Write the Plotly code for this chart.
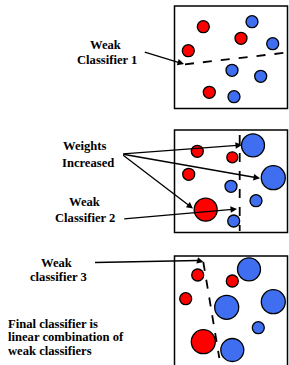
import plotly.graph_objects as go

RED = "#ff0000"
BLUE = "#3f6ff0"

# Panel 1 circles (x, y, diameter, colour)
p1_x = [203.3, 252, 241, 272.7, 188.3, 232, 260.7, 209.3, 234]
p1_y = [26.7, 21.7, 38.3, 43.7, 50.7, 70.3, 76.3, 92.3, 96.7]
p1_d = [12, 12, 12, 12, 12, 12, 12, 12, 12]
p1_c = ["r", "b", "r", "b", "r", "b", "b", "r", "b"]

# Panel 2 circles
p2_x = [197.3, 253, 232.3, 188.7, 273.3, 231, 256, 205.7, 233.7]
p2_y = [151.3, 145.3, 157.3, 174.3, 177.7, 186.3, 200.7, 209.7, 221]
p2_d = [12, 23, 11, 12, 24, 12, 12, 23, 12]
p2_c = ["r", "b", "r", "r", "b", "b", "b", "r", "b"]

# Panel 3 circles
p3_x = [197.7, 249, 232.3, 185.7, 226.7, 273.3, 258.3, 203.3, 232.3]
p3_y = [275, 269.3, 281, 298.7, 307.3, 301.7, 327.7, 341.7, 350]
p3_d = [12, 23, 12, 12, 24, 24, 12, 24, 23]
p3_c = ["r", "b", "r", "r", "b", "b", "b", "r", "b"]

fig = go.Figure()
for xs, ys, ds, cs in [(p1_x, p1_y, p1_d, p1_c), (p2_x, p2_y, p2_d, p2_c), (p3_x, p3_y, p3_d, p3_c)]:
    fig.add_trace(go.Scatter(
        x=xs, y=ys, mode="markers",
        marker=dict(size=ds, color=[RED if c == "r" else BLUE for c in cs],
                    line=dict(color="black", width=1.3), opacity=1),
        hoverinfo="skip", showlegend=False))

shapes = []
# boxes
for (y0, y1) in [(6, 108.5), (130, 232.5), (256, 366)]:
    shapes.append(dict(type="rect", x0=174.5, x1=287.5, y0=y0, y1=y1,
                       line=dict(color="black", width=1.5), layer="below"))
# dashed classifier lines
dash = dict(color="black", width=1.8, dash="dash")
shapes.append(dict(type="line", x0=185, y0=64.3, x1=289, y1=52.3, line=dash))
shapes.append(dict(type="line", x0=239.7, y0=135, x1=239.7, y1=231, line=dash))
shapes.append(dict(type="line", x0=203.3, y0=262, x1=219.3, y1=358, line=dash))
# line from Weak classifier 3
shapes.append(dict(type="line", x0=95, y0=262.5, x1=198, y1=260.5, line=dict(color="black", width=1.3)))

fig.update_layout(shapes=shapes)

font = dict(family="Liberation Serif", size=12.6, color="black")

def arrow(x0, y0, x1, y1):
    fig.add_annotation(x=x1, y=y1, ax=x0, ay=y0, xref="x", yref="y", axref="x", ayref="y",
                       text="", showarrow=True, arrowhead=2, arrowsize=1, arrowwidth=1.3,
                       arrowcolor="black")

arrow(143.3, 51.7, 184, 64)
arrow(121.7, 154, 242, 145)
arrow(121.7, 154, 260, 178.3)
arrow(121.7, 154, 193, 208.5)
arrow(122.7, 219, 237, 209)
arrow(198, 260.5, 203.5, 262)

def label(x, y, t, anchor="center"):
    fig.add_annotation(x=x, y=y, xref="x", yref="y", text="<b>" + t + "</b>", showarrow=False,
                       font=font, xanchor=anchor, yanchor="middle")

label(105, 45, "Weak")
label(106.7, 60, "Classifier 1")
label(84, 146, "Weights")
label(88.3, 162.7, "Increased")
label(84, 201.7, "Weak")
label(85, 218.3, "Classifier 2")
label(56.7, 262.7, "Weak")
label(58.3, 276.7, "classifier 3")
label(6, 324, "Final classifier is", "left")
label(6, 337.3, "linear combination of", "left")
label(6, 350.5, "weak classifiers", "left")

fig.update_layout(
    width=289, height=365, margin=dict(l=0, r=0, t=0, b=0),
    paper_bgcolor="white", plot_bgcolor="white",
    xaxis=dict(range=[0, 289], visible=False, fixedrange=True),
    yaxis=dict(range=[365, 0], visible=False, fixedrange=True),
)
fig.write_html("out.html", config={"displayModeBar": False},
               post_script="document.body.style.margin='0';document.body.style.overflow='hidden';")
